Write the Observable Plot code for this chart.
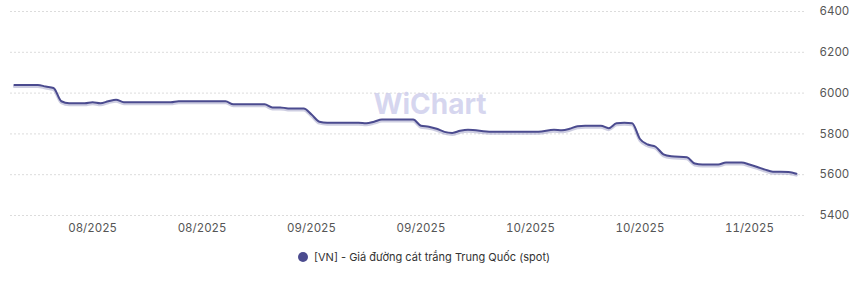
<!DOCTYPE html>
<html>
<head>
<meta charset="utf-8">
<script src="https://cdn.jsdelivr.net/npm/d3@7"></script>
<script src="https://cdn.jsdelivr.net/npm/@observablehq/plot@0.6"></script>
<style>
  body { margin: 0; background: #fff; font-family: Inter, "Noto Sans", sans-serif; }
  #wrap { width: 863px; height: 281px; position: relative; overflow: hidden; }
  .legend { position: absolute; top: 250px; left: 0; width: 848px; display: flex; justify-content: center; align-items: center; font-size: 11px; color: #333; }
  .legend .dot { width: 10px; height: 10px; border-radius: 50%; background: #4b4b8f; margin-right: 6px; }
</style>
</head>
<body>
<div id="wrap"></div>
<script>
const dates = ["2025-08-01","2025-08-04","2025-08-05","2025-08-06","2025-08-07","2025-08-08","2025-08-10","2025-08-11","2025-08-12","2025-08-13","2025-08-14","2025-08-15","2025-08-21","2025-08-22","2025-08-28","2025-08-29","2025-09-02","2025-09-03","2025-09-04","2025-09-05","2025-09-07","2025-09-08","2025-09-09","2025-09-10","2025-09-14","2025-09-15","2025-09-16","2025-09-17","2025-09-21","2025-09-22","2025-09-23","2025-09-24","2025-09-25","2025-09-26","2025-09-27","2025-09-28","2025-10-01","2025-10-07","2025-10-09","2025-10-10","2025-10-11","2025-10-12","2025-10-13","2025-10-15","2025-10-16","2025-10-17","2025-10-18","2025-10-19","2025-10-20","2025-10-21","2025-10-22","2025-10-23","2025-10-24","2025-10-26","2025-10-27","2025-10-28","2025-10-30","2025-10-31","2025-11-02","2025-11-03","2025-11-04","2025-11-05","2025-11-06","2025-11-08","2025-11-09"];
const values = [6040,6040,6032,6025,5960,5950,5950,5955,5950,5960,5968,5955,5955,5960,5960,5945,5945,5930,5930,5925,5925,5895,5860,5855,5855,5852,5860,5870,5870,5840,5835,5825,5810,5805,5815,5820,5810,5810,5820,5818,5825,5838,5840,5840,5828,5852,5855,5852,5775,5748,5737,5700,5690,5685,5655,5650,5650,5660,5660,5650,5638,5625,5615,5613,5605];
const xTicks = ["2025-08-11","2025-08-25","2025-09-08","2025-09-22","2025-10-06","2025-10-20","2025-11-03"];
const yTicks = [5400,5600,5800,6000,6200,6400];
const seriesName = "[VN] - Giá đường cát trắng Trung Quốc (spot)";
const watermark = "WiChart";

const parse = d3.utcParse("%Y-%m-%d");
const data = dates.map((d, i) => ({date: parse(d), value: values[i]}));
const color = "#4b4b8f";

const chart = Plot.plot({
  width: 863,
  height: 240,
  marginTop: 11,
  marginBottom: 25,
  marginLeft: 10,
  marginRight: 58,
  style: {fontFamily: "Inter, 'Noto Sans', sans-serif", fontSize: "11px", color: "#555", background: "#fff"},
  x: {type: "utc", domain: [new Date(Date.UTC(2025, 6, 31, 12)), new Date(Date.UTC(2025, 10, 10, 4))], label: null},
  y: {domain: [5400, 6400], label: null},
  marks: [
    Plot.gridY(yTicks, {stroke: "#dcdcdc", strokeOpacity: 1, strokeDasharray: "2,2"}),
    Plot.text([watermark], {frameAnchor: "middle", dx: 22, dy: -8, text: d => d, fill: "#c9c9ea", fontSize: 28, fontWeight: "bold", fillOpacity: 0.75}),
    Plot.axisY({ticks: yTicks, tickFormat: "d", anchor: "right", tickSize: 0, tickPadding: 14, textAnchor: "start", fill: "#555", fontSize: 11.5}),
    Plot.axisX({ticks: xTicks.map(parse), tickFormat: "%m/%Y", tickSize: 0, tickPadding: 8, fill: "#555", fontSize: 11.5}),
    Plot.line(data, {x: "date", y: "value", stroke: "#9b9bc4", strokeWidth: 3, strokeOpacity: 0.5, curve: "monotone-x", dy: 1.5}),
    Plot.line(data, {x: "date", y: "value", stroke: color, strokeWidth: 2, curve: "monotone-x"})
  ]
});
const wrap = document.getElementById("wrap");
wrap.appendChild(chart);
const lg = document.createElement("div");
lg.className = "legend";
lg.innerHTML = '<span class="dot"></span><span></span>';
lg.lastChild.textContent = seriesName;
wrap.appendChild(lg);
</script>
</body>
</html>
